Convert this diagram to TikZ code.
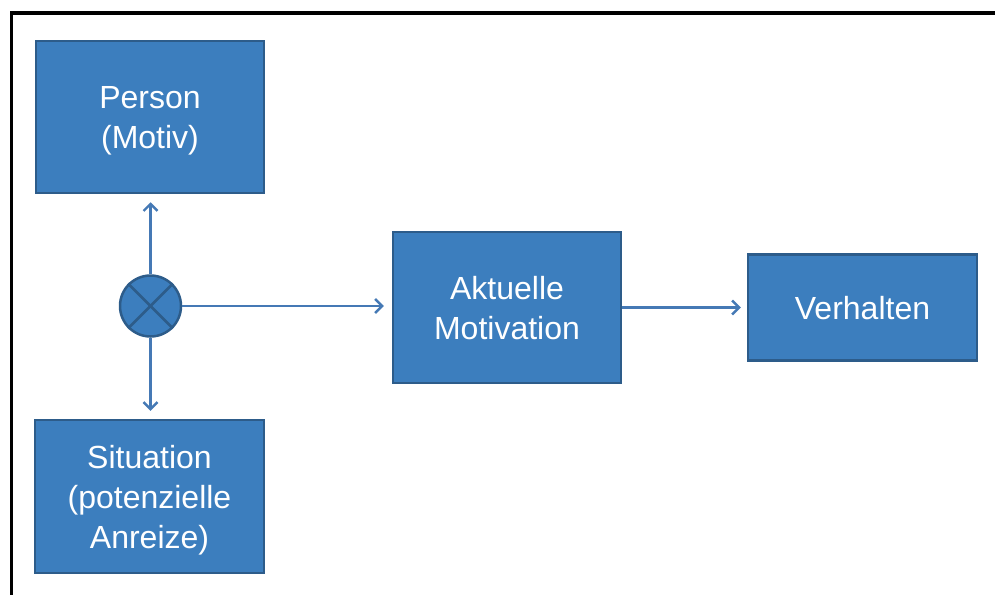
\documentclass[tikz,border=0pt]{standalone}
\usepackage{fontspec}
\setmainfont{Liberation Sans}
\usetikzlibrary{arrows.meta}
\definecolor{boxfill}{HTML}{3C7EBE}
\definecolor{boxedge}{HTML}{2D5C8A}
\definecolor{arrowcol}{HTML}{4579B5}
\begin{document}
\begin{tikzpicture}[x=1pt,y=-1pt,
  blockbox/.style={draw=boxedge,line width=2.5pt,fill=boxfill,text=white,
    font=\fontsize{32}{40}\selectfont,align=center,inner sep=0pt,text depth=0pt},
  flow/.style={draw=arrowcol,line width=2.4pt,
    -{Straight Barb[length=7pt,width=14pt,line width=2.4pt]}}]
  \useasboundingbox (0,0) rectangle (995,594);
  % outer frame (top and left edges)
  \draw[line width=3.5pt,line cap=rect] (11.5,594) -- (11.5,13) -- (995,13);
  % blocks
  \node[blockbox,minimum width=228pt,minimum height=152pt] (person) at (150,117) {Person\\(Motiv)};
  \node[blockbox,minimum width=229pt,minimum height=153pt] (situation) at (149.5,496.5) {Situation\\(potenzielle\\Anreize)};
  \node[blockbox,minimum width=228pt,minimum height=151pt] (motivation) at (507,307.5) {Aktuelle\\Motivation};
  \node[blockbox,minimum width=229pt,minimum height=106pt] (verhalten) at (862.5,307.5) {Verhalten};
  % multiplication junction
  \node[circle,draw=boxedge,line width=2.5pt,fill=boxfill,minimum size=61pt,inner sep=0pt] (mult) at (150.5,306) {};
  \draw[boxedge,line width=2.5pt] (mult.north west) -- (mult.south east);
  \draw[boxedge,line width=2.5pt] (mult.north east) -- (mult.south west);
  % connectors
  \draw[flow] (mult.north) -- ([yshift=-8pt]person.south -| mult.north);
  \draw[flow] (mult.south) -- ([yshift=8pt]situation.north -| mult.south);
  \draw[flow] (mult.east) -- ([xshift=-8pt]motivation.west |- mult.east);
  \draw[flow] (motivation.east) -- ([xshift=-6pt]verhalten.west);
\end{tikzpicture}
\end{document}
